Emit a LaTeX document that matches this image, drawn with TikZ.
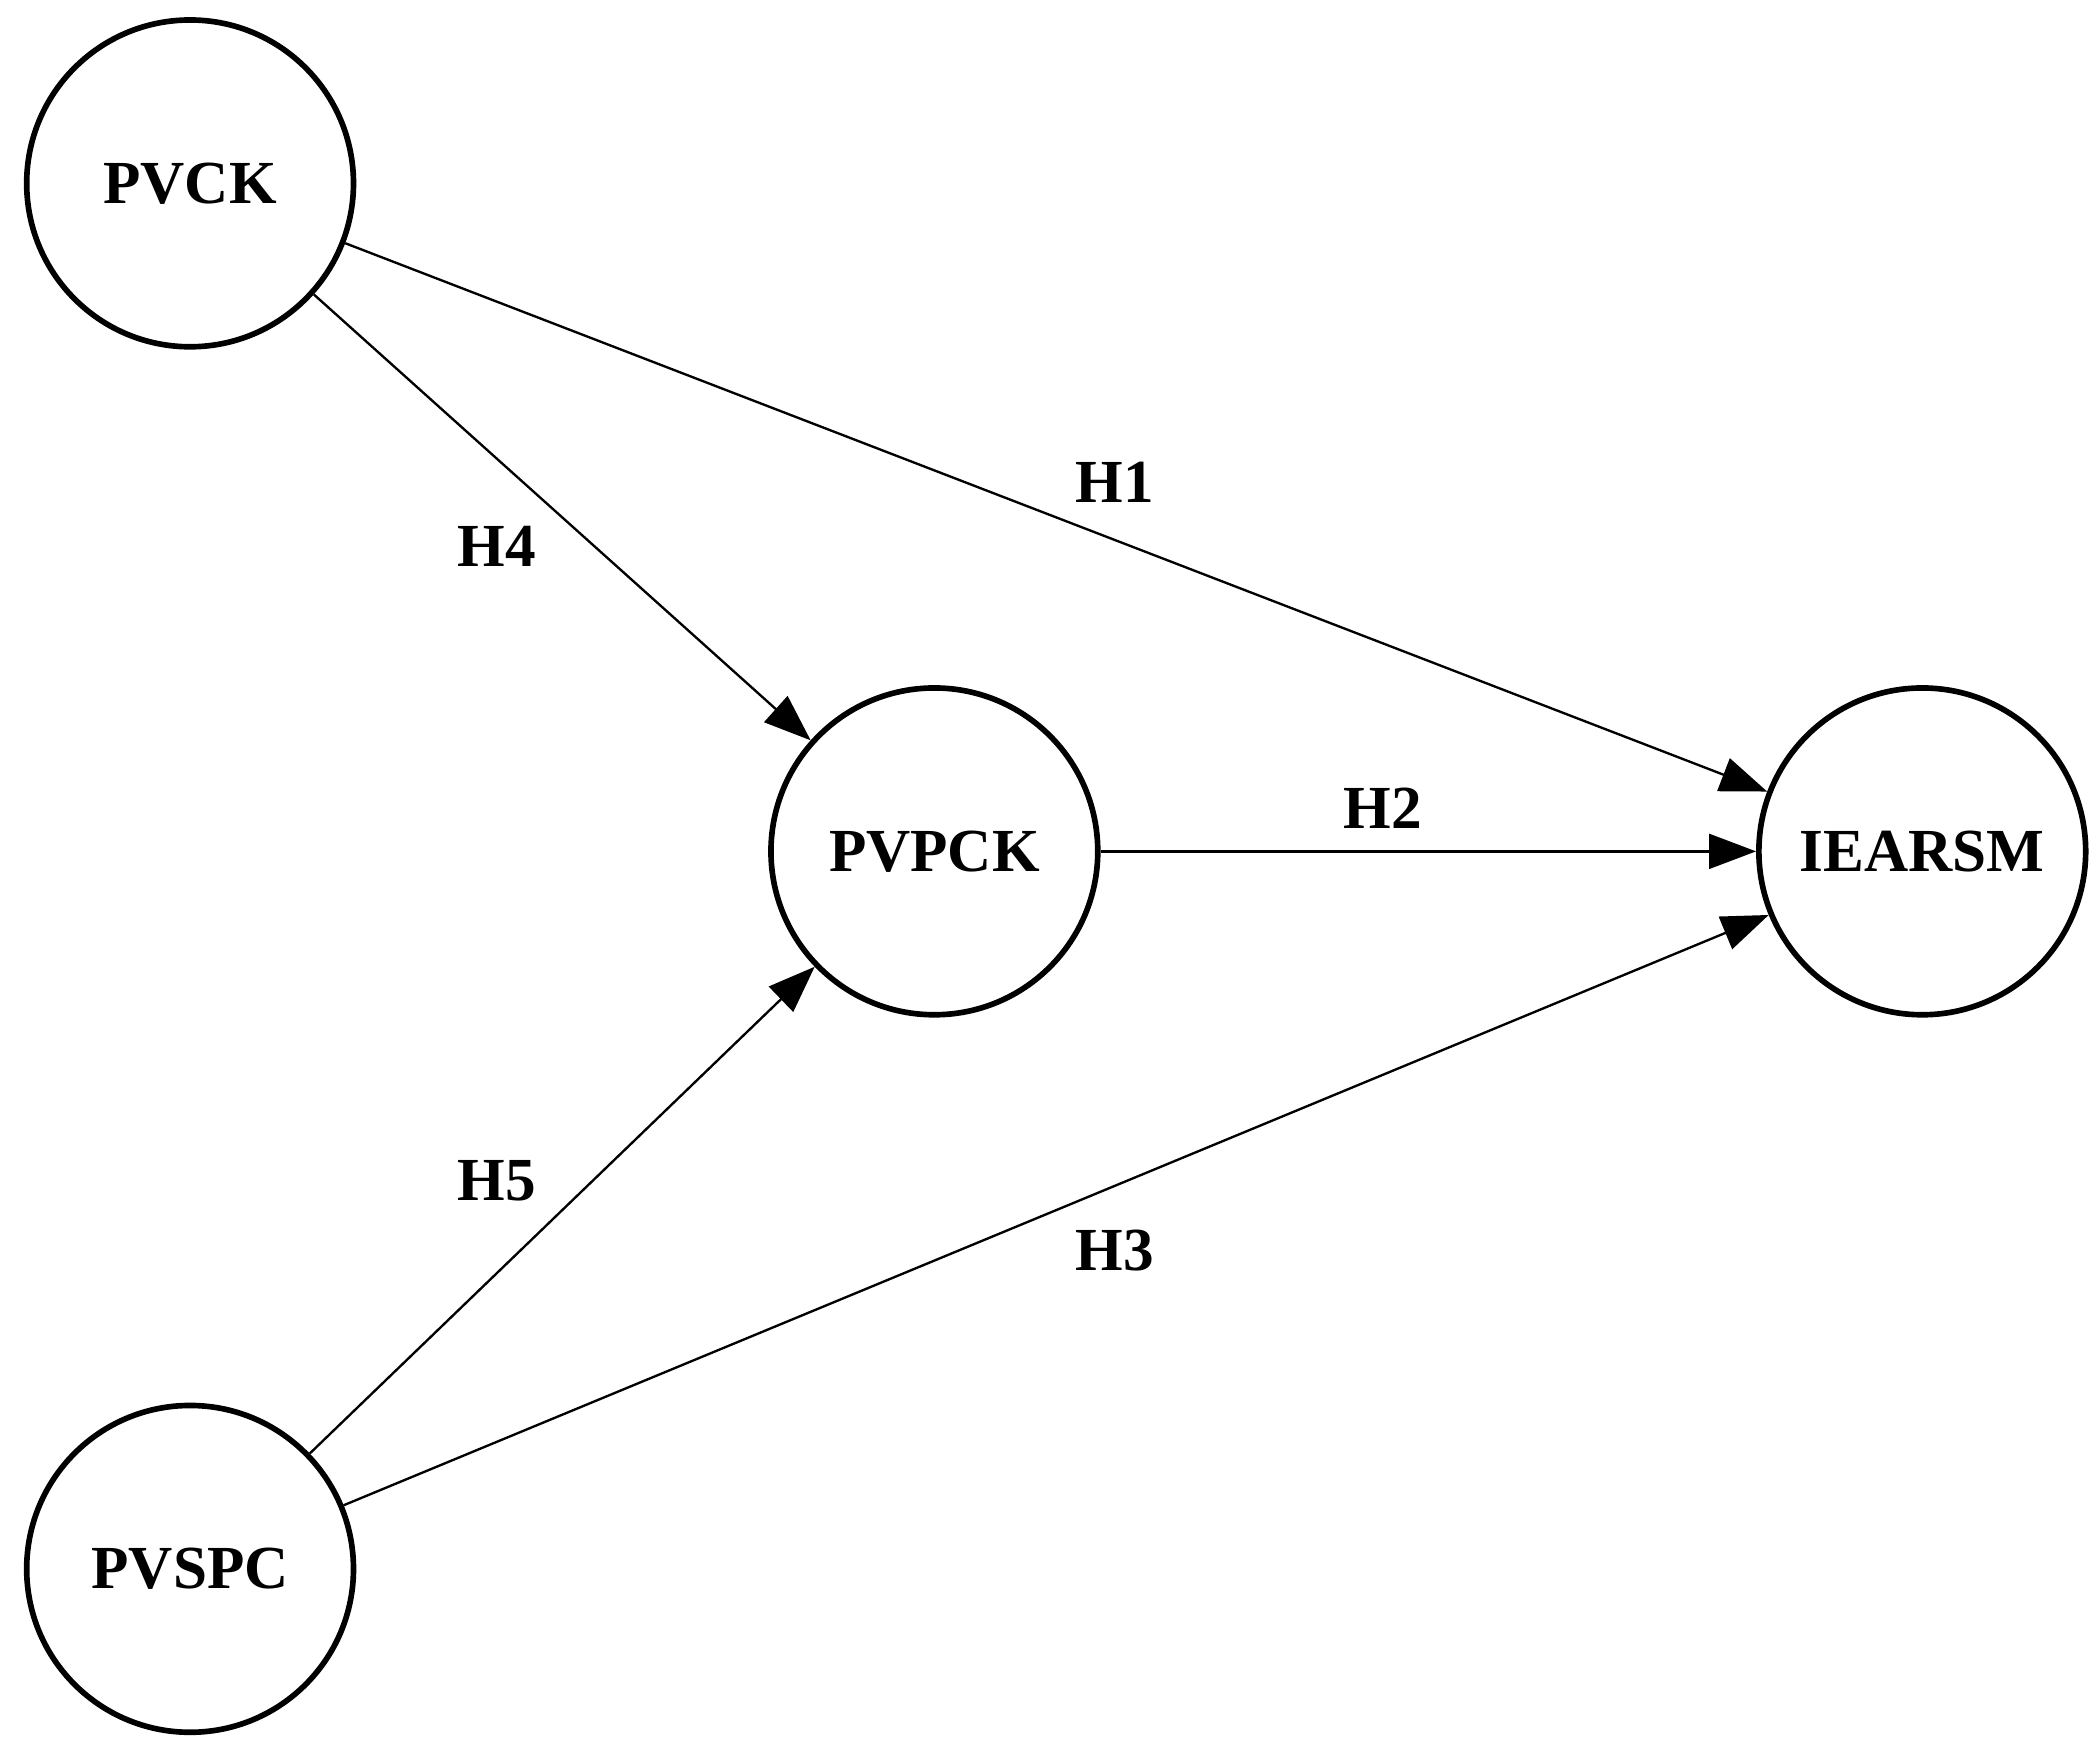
\documentclass[tikz,border=0pt]{standalone}
\usepackage{fontspec}
\setmainfont{Liberation Serif}
\usetikzlibrary{arrows.meta,positioning}
\tikzset{
    construct/.style={circle, draw, line width=1.2pt, minimum size=2.44cm, inner sep=0pt, font=\fontsize{13}{15}\selectfont\bfseries},
    path/.style={-{Triangle[length=3.5mm,width=2.6mm]}, line width=0.5pt},
    hyp/.style={font=\fontsize{13}{15}\selectfont\bfseries}
}
\begin{document}
\begin{tikzpicture}[x=0.01cm,y=-0.01cm]
    \useasboundingbox (0,0) rectangle (1568,1313);
    \node[construct] (PVCK) at (142,137) {PVCK};
    \node[construct] (PVPCK) at (698,636) {PVPCK};
    \node[construct] (IEARSM) at (1436,636) {IEARSM};
    \node[construct] (PVSPC) at (142,1172) {PVSPC};

    \draw[path] (PVCK) -- (IEARSM);
    \draw[path] (PVCK) -- (PVPCK);
    \draw[path] (PVPCK) -- (IEARSM);
    \draw[path] (PVSPC) -- (PVPCK);
    \draw[path] (PVSPC) -- (IEARSM);

    \node[hyp] (h1) at (833,360) {H1};
    \node[hyp] (h2) at (1033,604) {H2};
    \node[hyp] (h3) at (833,934) {H3};
    \node[hyp] (h4) at (371,408) {H4};
    \node[hyp] (h5) at (371,882) {H5};
\end{tikzpicture}
\end{document}
